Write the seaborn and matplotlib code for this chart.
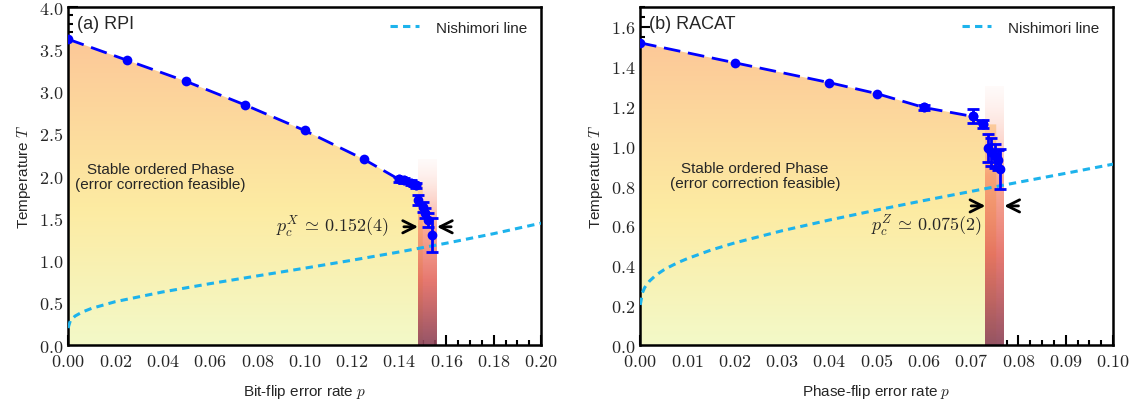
import numpy as np
import matplotlib
matplotlib.use('Agg')
import matplotlib.pyplot as plt
import seaborn as sns
from matplotlib.colors import LinearSegmentedColormap
from matplotlib.patches import Polygon
from matplotlib.ticker import MultipleLocator, FuncFormatter

# ---------------- data ----------------
# (a) RPI
p_rpi = [0.0, 0.025, 0.05, 0.075, 0.10, 0.125, 0.140, 0.142, 0.145, 0.147]
T_rpi = [3.62, 3.37, 3.12, 2.84, 2.54, 2.20, 1.96, 1.95, 1.92, 1.89]
e_rpi = [0.0, 0.0, 0.0, 0.0, 0.0, 0.0, 0.03, 0.03, 0.03, 0.03]
p_rpi_crit = [0.148, 0.150, 0.151, 0.152, 0.154]
T_rpi_crit = [1.72, 1.63, 1.56, 1.48, 1.30]
e_rpi_crit = [0.06, 0.06, 0.06, 0.08, 0.20]
p_nish_a = [0.00005, 0.001, 0.003, 0.006, 0.01, 0.02, 0.04, 0.06, 0.08,
            0.10, 0.12, 0.14, 0.16, 0.18, 0.20]
T_nish_a = [0.202, 0.290, 0.344, 0.391, 0.435, 0.514, 0.629, 0.727, 0.819,
            0.910, 1.004, 1.102, 1.206, 1.319, 1.443]
pc_rpi, pc_rpi_err = 0.152, 0.004
fill_edge_rpi = 0.150
band_top_rpi = 2.2

# (b) RACAT
p_racat = [0.0, 0.02, 0.04, 0.05, 0.06, 0.0703, 0.0724]
T_racat = [1.52, 1.42, 1.32, 1.265, 1.195, 1.15, 1.11]
e_racat = [0.0, 0.0, 0.0, 0.0, 0.012, 0.035, 0.02]
p_racat_crit = [0.0736, 0.0742, 0.0751, 0.0756, 0.0761]
T_racat_crit = [0.99, 0.97, 0.95, 0.93, 0.885]
e_racat_crit = [0.07, 0.07, 0.06, 0.05, 0.10]
p_nish_b = [0.00005, 0.0005, 0.001, 0.002, 0.003, 0.004, 0.005, 0.006, 0.008,
            0.01, 0.015, 0.02, 0.03, 0.04, 0.05, 0.06, 0.07, 0.08, 0.09, 0.10]
T_nish_b = [0.202, 0.263, 0.290, 0.322, 0.344, 0.362, 0.378, 0.391, 0.415,
            0.435, 0.478, 0.514, 0.575, 0.629, 0.679, 0.727, 0.773, 0.819, 0.864, 0.910]
pc_racat, pc_racat_err = 0.075, 0.002
fill_edge_racat = 0.0753
band_top_racat = 1.3

# ---------------- style ----------------
sns.set_style('ticks')
plt.rcParams['font.family'] = ['Liberation Sans', 'DejaVu Sans']
plt.rcParams['mathtext.fontset'] = 'cm'

fill_cmap = LinearSegmentedColormap.from_list(
    'fillgrad', [(0.0, '#F3F9C8'), (0.45, '#FDEBA2'), (1.0, '#FCC898')])
band_cmap = LinearSegmentedColormap.from_list(
    'bandgrad', [(0.0, (0.55, 0.27, 0.35, 0.92)),
                 (0.35, (0.88, 0.34, 0.30, 0.80)),
                 (0.65, (0.96, 0.48, 0.36, 0.62)),
                 (1.0, (1.0, 0.82, 0.78, 0.10))])

fig = plt.figure(figsize=(11.35, 4.02), dpi=100)
ax1 = fig.add_axes([0.0599, 0.139, 0.4168, 0.841])
ax2 = fig.add_axes([0.5639, 0.139, 0.4168, 0.841])


def panel(ax, p, T, e, pcr, Tcr, ecr, pn, Tn, pc, pce, fedge, btop,
          xlim, ylim, xmaj, xmin, ymaj, ymin, xfmt, yfmt):
    # gradient fill of the ordered phase
    verts = [(0, 0)] + list(zip(p, T)) + [(fedge, T[-1]), (fedge, 0)]
    poly = Polygon(verts, closed=True, facecolor='none', edgecolor='none')
    ax.add_patch(poly)
    grad = np.linspace(0, 1, 256).reshape(-1, 1)
    im = ax.imshow(grad, extent=[0, fedge, 0, max(T)], origin='lower',
                   cmap=fill_cmap, aspect='auto', zorder=1)
    im.set_clip_path(poly)
    # critical band
    band = band_cmap(np.linspace(0, 1, 256)).reshape(256, 1, 4)
    ax.imshow(band, extent=[pc - pce, pc + pce, 0, btop], origin='lower',
              aspect='auto', zorder=2, interpolation='bilinear')
    # Nishimori line
    sns.lineplot(x=pn, y=Tn, ax=ax, color='#1DB3EC', lw=2.2,
                 label='Nishimori line', zorder=4, sort=False)
    ax.lines[-1].set_dashes([2.4, 1.7])
    # transition curve
    sns.lineplot(x=p, y=T, ax=ax, color='blue', lw=2.0, zorder=5, sort=False,
                 marker='o', markersize=7, markeredgewidth=0)
    ax.lines[-1].set_dashes([6, 2.8])
    pe = [(a, b, c) for a, b, c in zip(p, T, e) if c > 0]
    ax.errorbar([a for a, _, _ in pe], [b for _, b, _ in pe],
                yerr=[c for _, _, c in pe], fmt='o', color='blue', ms=6,
                capsize=4, elinewidth=2, capthick=2, zorder=6)
    ax.errorbar(pcr, Tcr, yerr=ecr, fmt='o', color='blue', ms=6, capsize=4,
                elinewidth=2, capthick=2, zorder=6)

    ax.set_xlim(*xlim)
    ax.set_ylim(*ylim)
    ax.xaxis.set_major_locator(MultipleLocator(xmaj))
    ax.xaxis.set_minor_locator(MultipleLocator(xmin))
    ax.yaxis.set_major_locator(MultipleLocator(ymaj))
    ax.yaxis.set_minor_locator(MultipleLocator(ymin))
    ax.xaxis.set_major_formatter(FuncFormatter(lambda v, _: '$' + format(v, xfmt) + '$'))
    ax.yaxis.set_major_formatter(FuncFormatter(lambda v, _: '$' + format(v, yfmt) + '$'))
    ax.tick_params(which='both', direction='in', top=False, right=False,
                   labelsize=13, width=1.5, color='black')
    ax.tick_params(axis='x', which='major', pad=6)
    ax.tick_params(which='major', length=7)
    ax.tick_params(which='minor', length=3.5)
    for s in ax.spines.values():
        s.set_linewidth(1.8)
        s.set_color('black')
        s.set_visible(True)
    ax.set_ylabel('Temperature $T$', fontsize=11)
    ax.legend(loc='upper right', frameon=False, fontsize=11,
              handlelength=1.9, handletextpad=1.1)


panel(ax1, p_rpi, T_rpi, e_rpi, p_rpi_crit, T_rpi_crit, e_rpi_crit,
      p_nish_a, T_nish_a, pc_rpi, pc_rpi_err, fill_edge_rpi, band_top_rpi,
      (0, 0.20), (0, 4.0), 0.02, 0.005, 0.5, 0.1, '.2f', '.1f')
panel(ax2, p_racat, T_racat, e_racat, p_racat_crit, T_racat_crit, e_racat_crit,
      p_nish_b, T_nish_b, pc_racat, pc_racat_err, fill_edge_racat, band_top_racat,
      (0, 0.10), (0, 1.7), 0.01, 0.0025, 0.2, 0.05, '.2f', '.1f')

ax1.set_xlabel('Bit-flip error rate $p$', fontsize=11, labelpad=8)
ax2.set_xlabel('Phase-flip error rate $p$', fontsize=11, labelpad=8)

ax1.text(0.02, 0.975, '(a) RPI', transform=ax1.transAxes, fontsize=13,
         va='top', ha='left', zorder=9)
ax2.text(0.02, 0.975, '(b) RACAT', transform=ax2.transAxes, fontsize=13,
         va='top', ha='left', zorder=9)

ax1.text(0.039, 2.0, 'Stable ordered Phase\n(error correction feasible)',
         fontsize=11, ha='center', va='center', linespacing=1.1, zorder=7)
ax2.text(0.0243, 0.855, 'Stable ordered Phase\n(error correction feasible)',
         fontsize=11, ha='center', va='center', linespacing=1.1, zorder=7)

arrow_kw = dict(arrowstyle='->', lw=2.0, color='black', mutation_scale=22,
                shrinkA=0, shrinkB=0)
# (a) arrows + label
ax1.annotate('', xy=(pc_rpi - pc_rpi_err, 1.40), xytext=(pc_rpi - pc_rpi_err - 0.006, 1.40),
             arrowprops=arrow_kw, zorder=8)
ax1.annotate('', xy=(pc_rpi + pc_rpi_err, 1.40), xytext=(pc_rpi + pc_rpi_err + 0.006, 1.40),
             arrowprops=arrow_kw, zorder=8)
ax1.text(0.1355, 1.40, r'$p_c^X\,\simeq\,0.152(4)$', fontsize=13, ha='right',
         va='center', zorder=8)
# (b) arrows + label
ax2.annotate('', xy=(pc_racat - pc_racat_err, 0.70), xytext=(pc_racat - pc_racat_err - 0.003, 0.70),
             arrowprops=arrow_kw, zorder=8)
ax2.annotate('', xy=(pc_racat + pc_racat_err, 0.70), xytext=(pc_racat + pc_racat_err + 0.003, 0.70),
             arrowprops=arrow_kw, zorder=8)
ax2.text(0.0723, 0.60, r'$p_c^Z\,\simeq\,0.075(2)$', fontsize=13, ha='right',
         va='center', zorder=8)

fig.savefig('out.png', dpi=100)
